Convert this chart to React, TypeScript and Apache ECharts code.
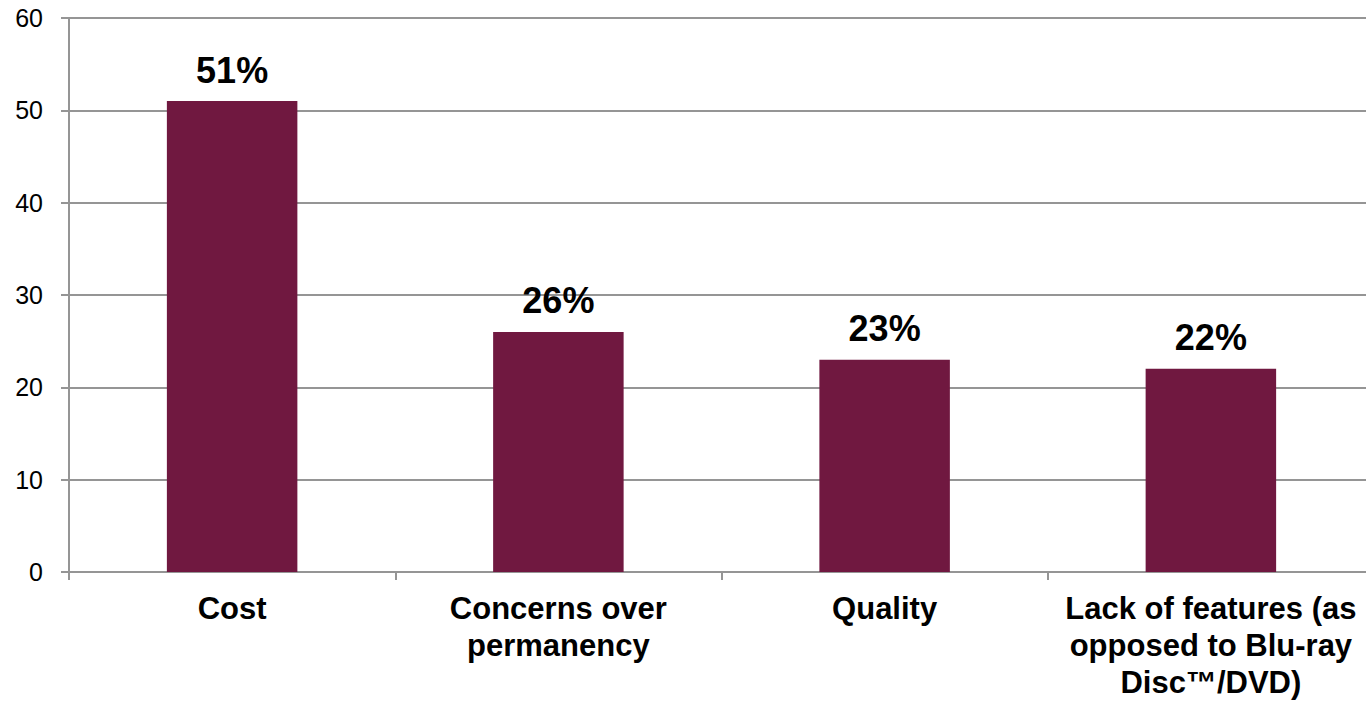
import React, { useEffect, useRef } from "react";
import * as echarts from "echarts";

const categories = [
  "Cost",
  "Concerns over\npermanency",
  "Quality",
  "Lack of features (as\nopposed to Blu-ray\nDisc™/DVD)",
];
const values = [51, 26, 23, 22];
const yMin = 0;
const yMax = 60;
const yInterval = 10;

const FONT = "Liberation Sans, Arial, sans-serif";
const GRAY = "#959595";

export default function App() {
  const ref = useRef<HTMLDivElement>(null);
  useEffect(() => {
    if (!ref.current) return;
    const chart = echarts.init(ref.current, null, { renderer: "svg" });
    chart.setOption({
      animation: false,
      textStyle: { fontFamily: FONT },
      grid: { left: 69, right: 0, top: 18, bottom: 128, containLabel: false },
      xAxis: {
        type: "category",
        data: categories,
        axisLine: { lineStyle: { color: GRAY, width: 2 } },
        axisTick: { show: true, length: 8, lineStyle: { color: GRAY, width: 2 } },
        axisLabel: {
          color: "#000",
          fontSize: 31,
          fontWeight: "bold",
          lineHeight: 37,
          margin: 18,
          interval: 0,
          fontFamily: FONT,
        },
      },
      yAxis: {
        type: "value",
        min: yMin,
        max: yMax,
        interval: yInterval,
        axisLine: { show: true, lineStyle: { color: GRAY, width: 2 } },
        axisTick: { show: true, length: 8, lineStyle: { color: GRAY, width: 2 } },
        splitLine: { lineStyle: { color: GRAY, width: 2 } },
        axisLabel: {
          color: "#000",
          fontSize: 25,
          margin: 26,
          fontFamily: FONT,
        },
      },
      series: [
        {
          type: "bar",
          data: values,
          barWidth: "40%",
          itemStyle: { color: "#701840" },
          label: {
            show: true,
            position: "top",
            distance: 13,
            formatter: "{c}%",
            color: "#000",
            fontSize: 36,
            fontWeight: "bold",
            fontFamily: FONT,
          },
        },
      ],
    });
    return () => chart.dispose();
  }, []);
  return (
    <div style={{ position: "absolute", left: 0, top: 0, width: 1366, height: 701, overflow: "hidden" }}>
      <div ref={ref} style={{ width: 1374, height: 701 }} />
    </div>
  );
}
